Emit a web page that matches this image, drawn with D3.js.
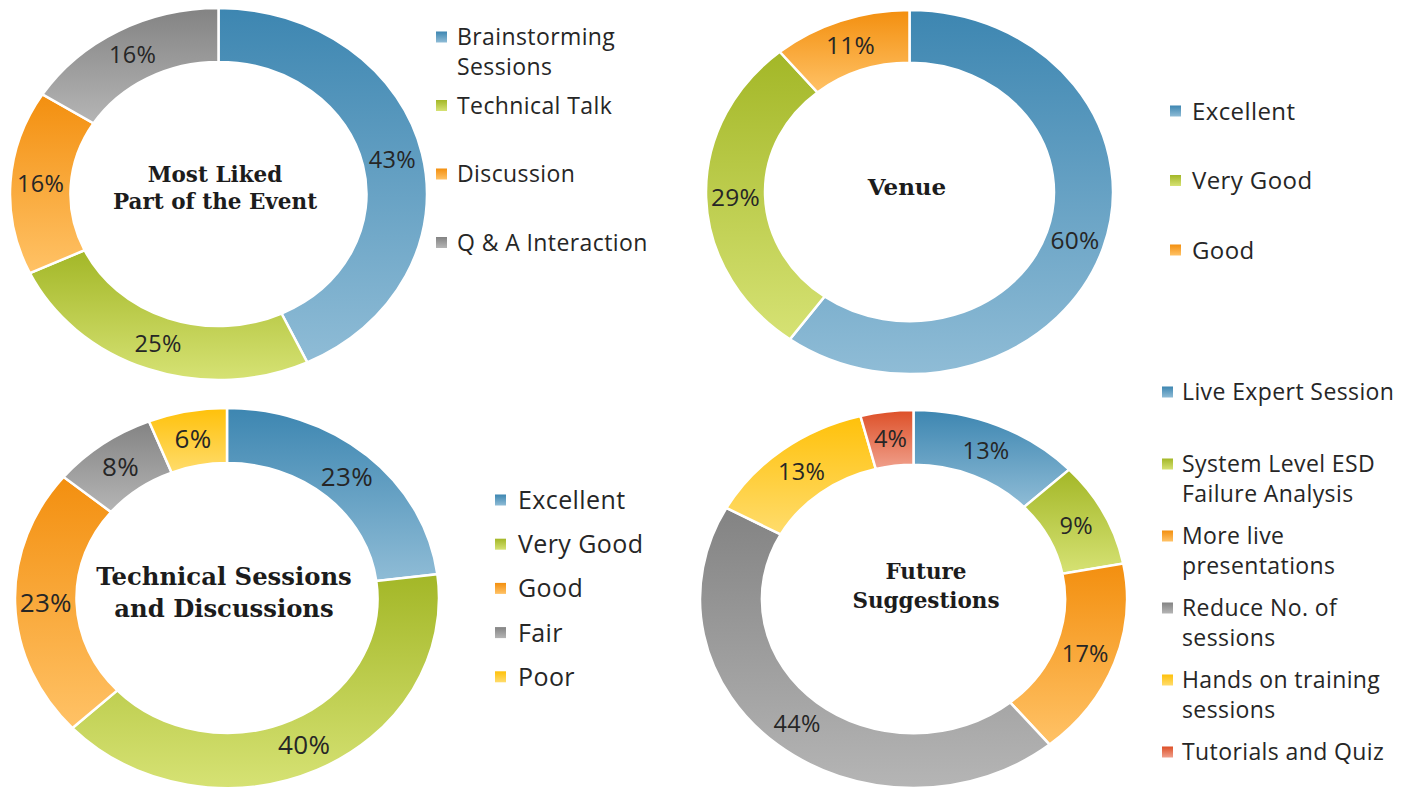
<!DOCTYPE html>
<html>
<head>
<meta charset="utf-8">
<script src="https://cdn.jsdelivr.net/npm/d3@7"></script>
<style>
  body { margin: 0; background: #fff; }
  svg { display: block; }
  .pct, .leg { font-family: "Open Sans", sans-serif; fill: #262626; }
  .leg { letter-spacing: 0.4px; }
  .pct { letter-spacing: 0.3px; }
  .title { font-family: "DejaVu Serif", serif; font-weight: bold; fill: #1c1c1c; }
</style>
</head>
<body>
<div id="chart"></div>
<script>
const WIDTH = 1407;
const HEIGHT = 789;

// data
const likedCategories = ["Brainstorming\nSessions", "Technical Talk", "Discussion", "Q & A Interaction"];
const likedValues = [43, 25, 16, 16];

const venueCategories = ["Excellent", "Very Good", "Good"];
const venueValues = [60, 29, 11];

const techCategories = ["Excellent", "Very Good", "Good", "Fair", "Poor"];
const techValues = [23, 40, 23, 8, 6];

const futureCategories = ["Live Expert Session", "System Level ESD\nFailure Analysis", "More live\npresentations",
    "Reduce No. of\nsessions", "Hands on training\nsessions", "Tutorials and Quiz"];
const futureValues = [13, 9, 17, 44, 13, 4];

// gradient colours, dark at top -> light at bottom
const palette = [
    {id: "blue", top: "#3d86b1", bottom: "#8fbcd6"},
    {id: "green", top: "#a3b727", bottom: "#d6e274"},
    {id: "orange", top: "#f38f0f", bottom: "#ffc266"},
    {id: "gray", top: "#838383", bottom: "#b5b5b5"},
    {id: "yellow", top: "#ffc10a", bottom: "#ffdc6c"},
    {id: "red", top: "#dd4f27", bottom: "#f0a08c"}
];

// layout for each donut
const charts = [
    {categories: likedCategories, values: likedValues, cx: 218.5, cy: 194, rx: 208.5, ry: 186,
     title: ["Most Liked", "Part of the Event"], titleX: 215, titleY: 182, titleSize: 21.5, titleLH: 27,
     pctSize: 23.5, legX: 436, legTextX: 457, legY: 37, legStep: 68.5, legSize: 23, legLH: 30},
    {categories: venueCategories, values: venueValues, cx: 909.5, cy: 192, rx: 203.5, ry: 182,
     title: ["Venue"], titleX: 907, titleY: 195, titleSize: 23, titleLH: 0,
     pctSize: 24.5, legX: 1170, legTextX: 1192, legY: 111, legStep: 69.5, legSize: 24, legLH: 28},
    {categories: techCategories, values: techValues, cx: 227, cy: 598, rx: 212, ry: 190,
     title: ["Technical Sessions", "and Discussions"], titleX: 224, titleY: 585, titleSize: 24.3, titleLH: 32,
     pctSize: 26, legX: 495, legTextX: 518, legY: 500, legStep: 44.2, legSize: 25, legLH: 28},
    {categories: futureCategories, values: futureValues, cx: 913.5, cy: 599, rx: 213.5, ry: 189,
     title: ["Future", "Suggestions"], titleX: 926, titleY: 579, titleSize: 21.5, titleLH: 29,
     pctSize: 23.5, legX: 1162, legTextX: 1182, legY: 392, legStep: 72, legSize: 23, legLH: 30}
];

const INNER_RATIO = 0.71;

var svg = d3.select('#chart').append('svg')
    .attr('width', WIDTH)
    .attr('height', HEIGHT);

function setupGradients() {
    var defs = svg.append('defs');
    palette.forEach(function (p) {
        var g = defs.append('linearGradient')
            .attr('id', 'grad-' + p.id)
            .attr('x1', 0).attr('y1', 0).attr('x2', 0).attr('y2', 1);
        g.append('stop').attr('offset', '0%').attr('stop-color', p.top);
        g.append('stop').attr('offset', '100%').attr('stop-color', p.bottom);
    });
}

function fillFor(i) {
    return 'url(#grad-' + palette[i].id + ')';
}

var pie = d3.pie().sort(null).value(function (d) { return d; });

function drawDonut(c) {
    var sy = c.ry / c.rx;
    var arc = d3.arc().innerRadius(c.rx * INNER_RATIO).outerRadius(c.rx);
    var slices = pie(c.values);

    var ring = svg.append('g')
        .attr('transform', 'translate(' + c.cx + ',' + c.cy + ') scale(1,' + sy + ')');
    ring.selectAll('path').data(slices).enter().append('path')
        .attr('d', arc)
        .attr('fill', function (d, i) { return fillFor(i); })
        .attr('stroke', '#fff')
        .attr('stroke-width', 2.5)
        .attr('vector-effect', 'non-scaling-stroke');

    // percentage labels at slice centroid
    svg.append('g').selectAll('text').data(slices).enter().append('text')
        .attr('class', 'pct')
        .attr('x', function (d) { return c.cx + arc.centroid(d)[0]; })
        .attr('y', function (d) { return c.cy + arc.centroid(d)[1] * sy; })
        .attr('dy', '0.36em')
        .attr('text-anchor', 'middle')
        .style('font-size', c.pctSize + 'px')
        .text(function (d) { return d.data + '%'; });

    // centre title
    var t = svg.append('text')
        .attr('class', 'title')
        .attr('text-anchor', 'middle')
        .style('font-size', c.titleSize + 'px');
    c.title.forEach(function (line, i) {
        t.append('tspan').attr('x', c.titleX).attr('y', c.titleY + i * c.titleLH).text(line);
    });

    // legend
    var leg = svg.append('g');
    var rows = leg.selectAll('g').data(c.categories).enter().append('g')
        .attr('transform', function (d, i) { return 'translate(0,' + (c.legY + i * c.legStep) + ')'; });
    rows.append('rect')
        .attr('x', c.legX).attr('y', -5.5)
        .attr('width', 11).attr('height', 11)
        .attr('fill', function (d, i) { return fillFor(i); });
    rows.append('text')
        .attr('class', 'leg')
        .style('font-size', c.legSize + 'px')
        .each(function (d) {
            var el = d3.select(this);
            d.split('\n').forEach(function (line, j) {
                el.append('tspan').attr('x', c.legTextX).attr('y', j * c.legLH).attr('dy', '0.36em').text(line);
            });
        });
}

setupGradients();
charts.forEach(drawDonut);
</script>
</body>
</html>
